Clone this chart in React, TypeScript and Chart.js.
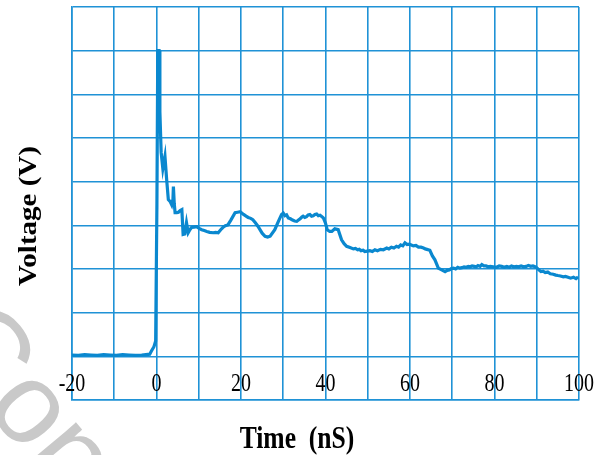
import React, { useEffect, useRef } from "react";
import { Chart, registerables } from "chart.js";

Chart.register(...registerables);

const timeValues: number[] = [
  -20, -18.5, -17, -15.5, -14, -12.5, -11, -9.5, -8, -6.5, -5, -3.5, -2.5, -1.6, -1.2, -0.6, -0.2,
  0.1, 0.3, 0.6, 0.8, 1.1, 1.5, 2.0, 2.4, 2.8, 3.2, 3.6, 3.9, 4.0, 4.2, 4.4, 4.8, 5.2, 5.6, 6.0,
  6.3, 6.7, 7.1, 7.5, 7.9, 8.3, 8.9, 9.5, 10.1, 10.7, 11.3, 11.9, 12.6, 13.4, 14.0, 14.6, 15.2,
  15.7, 16.3, 16.9, 17.6, 18.6, 19.2, 19.8, 20.6, 21.2, 21.7, 22.3, 22.8, 23.4, 24.0, 25.0,
  25.7, 26.3, 26.9, 28.0, 28.8, 29.6, 30.0, 30.4, 30.8, 31.2, 31.7, 32.2, 32.7, 33.2, 33.6, 34.0,
  34.4, 34.7, 35.1, 35.5, 35.9, 36.3, 36.7, 37.1, 37.5, 37.9, 38.3, 38.7, 39.1, 39.5, 40.0,
  40.4, 41.0, 41.5, 42.2, 43.0, 43.8, 44.4, 45.0, 45.8, 46.6, 47.1, 47.6, 48.0, 48.4, 48.9,
  49.3, 49.9, 50.5, 51.1, 51.7, 52.3, 53.0, 53.7, 54.5, 55.0, 55.6, 56.2, 56.8, 57.3, 57.8,
  58.3, 58.8, 59.3, 59.8, 60.3, 60.8, 61.4, 62.0, 62.6, 63.2, 63.6, 64.0, 64.7, 65.3, 65.9,
  66.7, 67.5, 68.3, 68.8, 69.3, 69.8, 70.3, 70.8, 71.3, 71.8, 72.3, 72.8, 73.3, 73.8, 74.2,
  74.7, 75.2, 75.7, 76.1, 76.6, 77.0, 77.5, 78.0, 78.5, 79.0, 79.7, 80.5, 81.1, 81.7, 82.3,
  82.9, 83.5, 84.0, 84.6, 85.2, 85.7, 86.3, 86.9, 87.5, 88.0, 88.6, 89.1, 89.6, 90.0, 90.5,
  91.0, 91.5, 92.0, 92.6, 93.2, 93.9, 94.5, 95.0, 95.6, 96.3, 96.8, 97.4, 98.0, 98.7, 99.3,
  99.8,
];

const voltageValues: number[] = [
  0.03, 0.02, 0.04, 0.03, 0.02, 0.04, 0.03, 0.02, 0.04, 0.03, 0.02, 0.03, 0.04, 0.05, 0.12,
  0.22, 0.35, 3.5, 7.0, 7.0, 5.6, 4.67, 4.3, 4.58, 4.05, 3.59, 3.55, 3.47, 3.6, 3.89, 3.5, 3.29,
  3.29, 3.3, 3.34, 3.36, 2.79, 2.8, 3.06, 2.83, 2.9, 2.95, 2.96, 2.97, 2.93, 2.9, 2.88, 2.86,
  2.84, 2.83, 2.84, 2.83, 2.9, 2.95, 2.99, 3.01, 3.12, 3.29, 3.3, 3.31, 3.25, 3.21, 3.18, 3.16,
  3.13, 3.06, 2.98, 2.82, 2.75, 2.73, 2.75, 2.9, 3.08, 3.25, 3.28, 3.22, 3.24, 3.17, 3.15, 3.12,
  3.1, 3.09, 3.12, 3.15, 3.19, 3.21, 3.18, 3.2, 3.24, 3.25, 3.21, 3.22, 3.25, 3.26, 3.22, 3.23,
  3.2, 3.17, 3.05, 2.9, 2.86, 2.86, 2.92, 2.9, 2.67, 2.58, 2.52, 2.49, 2.46, 2.47, 2.44, 2.45,
  2.42, 2.43, 2.4, 2.41, 2.42, 2.4, 2.44, 2.42, 2.45, 2.44, 2.48, 2.46, 2.5, 2.48, 2.52, 2.5,
  2.55, 2.53, 2.6, 2.56, 2.57, 2.55, 2.53, 2.54, 2.5, 2.5, 2.48, 2.46, 2.45, 2.43, 2.3, 2.21,
  2.02, 1.98, 1.94, 1.97, 1.98, 2.01, 2.02, 2.0, 2.04, 2.02, 2.03, 2.05, 2.04, 2.06, 2.05,
  2.07, 2.06, 2.05, 2.08, 2.06, 2.1, 2.07, 2.07, 2.05, 2.06, 2.05, 2.04, 2.07, 2.06, 2.04,
  2.06, 2.04, 2.07, 2.05, 2.06, 2.05, 2.07, 2.05, 2.06, 2.08, 2.06, 2.07, 2.05, 2.03, 1.98,
  1.94, 1.95, 1.92, 1.93, 1.89, 1.88, 1.86, 1.85, 1.84, 1.82, 1.83, 1.81, 1.79, 1.81, 1.78,
  1.82,
];

const xTickLabels: number[] = [-20, 0, 20, 40, 60, 80, 100];
const xTitle = "Time  (nS)";
const yTitle = "Voltage (V)";
const watermark = "Con";

const GRID = "#1f92d6";
const LINE = "#0a88cf";

const textPlugin = {
  id: "customText",
  beforeDraw(chart: any) {
    const ctx = chart.ctx;
    ctx.save();
    ctx.fillStyle = "#c9c9c9";
    ctx.font = "115px 'Liberation Sans'";
    ctx.translate(-70, 343);
    ctx.rotate((50 * Math.PI) / 180);
    ctx.textBaseline = "alphabetic";
    ctx.textAlign = "left";
    ctx.fillText(watermark, 0, 0);
    ctx.restore();
  },
  afterDraw(chart: any) {
    const ctx = chart.ctx;
    const xs = chart.scales.x;
    const ys = chart.scales.y;
    ctx.save();
    ctx.fillStyle = "#000";
    ctx.textAlign = "center";
    ctx.textBaseline = "alphabetic";
    ctx.font = "25px 'Liberation Serif'";
    const by = ys.getPixelForValue(-0.8);
    for (const v of xTickLabels) {
      const px = xs.getPixelForValue(v);
      ctx.save();
      ctx.translate(px, by);
      ctx.scale(0.8, 1);
      ctx.fillText(String(v), 0, 0);
      ctx.restore();
    }
    ctx.font = "bold 32px 'Liberation Serif'";
    ctx.save();
    ctx.translate(297, 448);
    ctx.scale(0.8, 1);
    ctx.fillText(xTitle, 0, 0);
    ctx.restore();
    ctx.font = "bold 29px 'Liberation Serif'";
    ctx.save();
    ctx.translate(36, 216);
    ctx.rotate(-Math.PI / 2);
    ctx.scale(1, 0.85);
    ctx.fillText(yTitle, 0, 0);
    ctx.restore();
    ctx.restore();
  },
};

export default function App() {
  const ref = useRef<HTMLCanvasElement | null>(null);
  useEffect(() => {
    if (!ref.current) return;
    const points = timeValues.map((t, i) => ({ x: t, y: voltageValues[i] }));
    const chart = new Chart(ref.current, {
      type: "line",
      data: {
        datasets: [
          {
            data: points,
            borderColor: LINE,
            borderWidth: 3.2,
            pointRadius: 0,
            tension: 0,
            fill: false,
          },
        ],
      },
      options: {
        animation: false,
        responsive: false,
        layout: { padding: { left: 72, right: 33, top: 7, bottom: 55 } },
        plugins: { legend: { display: false }, tooltip: { enabled: false } },
        scales: {
          x: {
            type: "linear",
            min: -20,
            max: 100,
            ticks: { display: false, stepSize: 10 },
            grid: { color: GRID, lineWidth: 1.6, drawTicks: false },
            border: { display: true, color: GRID, width: 1.6 },
          },
          y: {
            type: "linear",
            min: -1,
            max: 8,
            ticks: { display: false, stepSize: 1 },
            grid: { color: GRID, lineWidth: 1.6, drawTicks: false },
            border: { display: true, color: GRID, width: 1.6 },
          },
        },
      },
      plugins: [textPlugin],
    });
    return () => chart.destroy();
  }, []);
  return (
    <div style={{ position: "fixed", left: 0, top: 0, width: 612, height: 455, background: "#fff" }}>
      <canvas ref={ref} width={612} height={455} style={{ width: 612, height: 455 }} />
    </div>
  );
}
